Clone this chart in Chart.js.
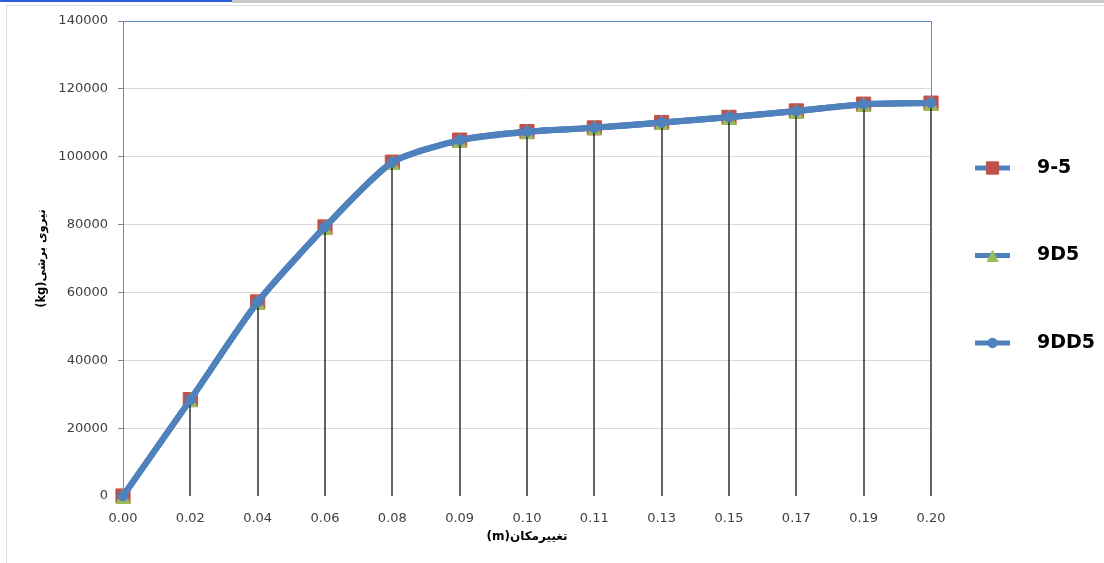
<!DOCTYPE html>
<html>
<head>
<meta charset="utf-8">
<script src="https://cdn.jsdelivr.net/npm/chart.js@4.4.1/dist/chart.umd.min.js"></script>
<style>
  html, body { margin: 0; padding: 0; background: #fff; }
  #wrap { position: relative; width: 1104px; height: 563px; overflow: hidden; }
  #chart { position: absolute; left: 0; top: 0; }
  .edge { position: absolute; }
</style>
</head>
<body>
<div id="wrap">
  <canvas id="chart" width="1104" height="563"></canvas>
  <div class="edge" style="left:232px;top:0;width:872px;height:3px;background:#c8c8c8"></div>
  <div class="edge" style="left:0;top:0;width:232px;height:2px;background:#2f5fd8"></div>
  <div class="edge" style="left:6px;top:5px;width:1098px;height:1px;background:#dcdcdc"></div>
  <div class="edge" style="left:6px;top:5px;width:1px;height:558px;background:#dcdcdc"></div>
</div>
<script>
// displacement (m) categories and shear force (kg) per specimen
const xLabels = ['0.00', '0.02', '0.04', '0.06', '0.08', '0.09', '0.10', '0.11', '0.13', '0.15', '0.17', '0.19', '0.20'];
const seriesNames = ['9-5', '9D5', '9DD5'];
const force95 = [0, 28400, 57200, 79300, 98400, 104900, 107400, 108500, 110100, 111600, 113500, 115500, 115800];
const force9D5 = [0, 28300, 57100, 79200, 98300, 104800, 107300, 108500, 110000, 111600, 113400, 115400, 115800];
const force9DD5 = [0, 28400, 57200, 79300, 98400, 104900, 107400, 108600, 110100, 111700, 113500, 115500, 115900];

const BLUE = '#4F81BD';
const RED = '#C0504D';
const GREEN = '#9BBB59';
const TICK_COLOR = '#404040';

// Excel triangle marker fills its whole box (apex top, base at bottom)
function triangleImage(size, color) {
  const c = document.createElement('canvas');
  c.width = size;
  c.height = size;
  const g = c.getContext('2d');
  g.fillStyle = color;
  g.beginPath();
  g.moveTo(size / 2, 0);
  g.lineTo(size, size);
  g.lineTo(0, size);
  g.closePath();
  g.fill();
  return c;
}

const markers = [
  { style: 'rect', fill: RED, radius: 10, legendStyle: 'rect', legendRadius: 8.7 },
  { style: triangleImage(15, GREEN), fill: GREEN, radius: 7, legendStyle: triangleImage(12, GREEN), legendRadius: 6 },
  { style: 'circle', fill: BLUE, radius: 5, legendStyle: 'circle', legendRadius: 4.8 },
];

function makeSet(i, data) {
  const m = markers[i];
  return {
    label: seriesNames[i],
    data,
    order: 3 - i, // red at the bottom, blue on top
    borderColor: BLUE,
    borderWidth: 6,
    tension: 0.22,
    pointStyle: m.style,
    pointRadius: m.radius,
    pointHoverRadius: m.radius,
    pointBackgroundColor: m.fill,
    pointBorderColor: m.fill,
    pointBorderWidth: 1,
    clip: false,
  };
}

// black drop lines from each point to the axis, drawn under the blue series
const dropLines = {
  id: 'dropLines',
  afterDatasetDraw(chart, args) {
    if (args.index !== 1) return;
    const pts = chart.getDatasetMeta(2).data;
    const base = chart.scales.y.getPixelForValue(0);
    const ctx = chart.ctx;
    ctx.save();
    ctx.strokeStyle = '#111';
    ctx.lineWidth = 1.3;
    ctx.beginPath();
    pts.forEach(p => {
      ctx.moveTo(Math.round(p.x), p.y);
      ctx.lineTo(Math.round(p.x), base);
    });
    ctx.stroke();
    ctx.restore();
  },
};

// thin blue frame along the top and down the right edge to the last point
const frame = {
  id: 'frame',
  beforeDatasetsDraw(chart) {
    const { ctx, chartArea } = chart;
    const pts = chart.getDatasetMeta(2).data;
    const last = pts[pts.length - 1];
    ctx.save();
    ctx.strokeStyle = '#5a8ad0';
    ctx.lineWidth = 1;
    ctx.beginPath();
    ctx.moveTo(chartArea.left + 1, chartArea.top + 0.5);
    ctx.lineTo(Math.round(last.x) + 0.5, chartArea.top + 0.5);
    ctx.lineTo(Math.round(last.x) + 0.5, last.y);
    ctx.stroke();
    ctx.restore();
  },
};

// Excel-style legend: line segment with the series marker, widely spaced
const sideLegend = {
  id: 'sideLegend',
  afterDraw(chart) {
    const ctx = chart.ctx;
    const x0 = 975, x1 = 1010, textX = 1037;
    const y0 = 168, gap = 87.5;
    ctx.save();
    chart.data.datasets.forEach((ds, i) => {
      const y = y0 + i * gap;
      ctx.strokeStyle = BLUE;
      ctx.lineWidth = 5;
      ctx.beginPath();
      ctx.moveTo(x0, y);
      ctx.lineTo(x1, y);
      ctx.stroke();
      const m = markers[i];
      ctx.fillStyle = m.fill;
      ctx.strokeStyle = m.fill;
      ctx.lineWidth = 1;
      Chart.helpers.drawPoint(ctx, { pointStyle: m.legendStyle, radius: m.legendRadius, rotation: 0, borderWidth: 1 }, (x0 + x1) / 2, y);
      ctx.fillStyle = '#000';
      ctx.font = 'bold 19px "DejaVu Sans", Verdana, sans-serif';
      ctx.textAlign = 'left';
      ctx.textBaseline = 'middle';
      ctx.fillText(ds.label, textX, y);
    });
    ctx.restore();
  },
};

new Chart(document.getElementById('chart'), {
  type: 'line',
  data: {
    labels: xLabels,
    datasets: [makeSet(0, force95), makeSet(1, force9D5), makeSet(2, force9DD5)],
  },
  options: {
    responsive: false,
    animation: false,
    layout: { padding: { top: 21, right: 173, bottom: 0, left: 0 } },
    plugins: {
      legend: { display: false },
      tooltip: { enabled: false },
    },
    scales: {
      x: {
        type: 'category',
        offset: false,
        grid: { display: false },
        border: { display: false },
        ticks: {
          color: TICK_COLOR,
          padding: 7,
          maxRotation: 0,
          autoSkip: false,
          font: { family: '"DejaVu Sans", Verdana, sans-serif', size: 13 },
        },
        title: {
          display: true,
          text: '\u202Bتغییرمکان(m)\u202C',
          color: '#000',
          padding: { top: 0, bottom: 19 },
          font: { family: '"DejaVu Sans", Tahoma, sans-serif', size: 12, weight: 'bold' },
        },
        afterFit(scale) { scale.height = 67; },
      },
      y: {
        min: 0,
        max: 140000,
        ticks: {
          stepSize: 20000,
          color: TICK_COLOR,
          padding: 10,
          font: { family: '"DejaVu Sans", Verdana, sans-serif', size: 13 },
          callback: v => String(v),
        },
        grid: {
          color: ctx => (ctx.tick && ctx.tick.value === 0 ? 'rgba(0,0,0,0)' : '#d9d9d9'),
          tickColor: '#868686',
          tickLength: 5,
          lineWidth: 1,
        },
        border: { color: '#868686', width: 1 },
        title: {
          display: true,
          text: '\u202Bنیروی برشی(kg)\u202C',
          color: '#000',
          padding: { top: 35, bottom: 0 },
          font: { family: '"DejaVu Sans", Tahoma, sans-serif', size: 11.5, weight: 'bold' },
        },
        afterFit(scale) { scale.width = 123; },
      },
    },
  },
  plugins: [frame, dropLines, sideLegend],
});
</script>
</body>
</html>
